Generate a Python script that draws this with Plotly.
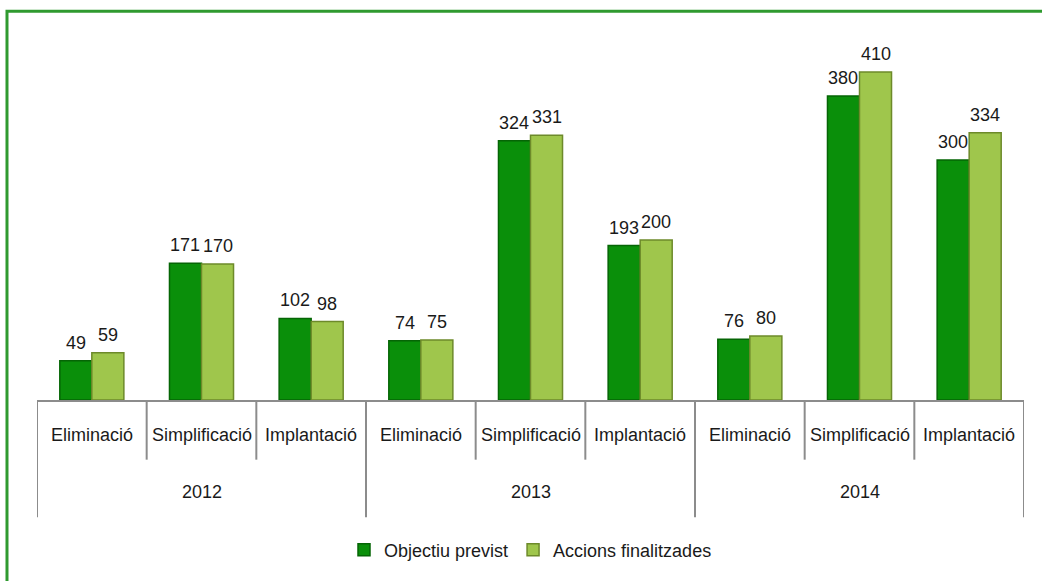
import plotly.graph_objects as go

# Action counts per year and type of intervention
year_labels = ["2012", "2013", "2014"]
type_labels = ["Eliminació", "Simplificació", "Implantació"]
objectiu_previst = [49, 171, 102, 74, 324, 193, 76, 380, 300]
accions_finalitzades = [59, 170, 98, 75, 331, 200, 80, 410, 334]

font_family = "Liberation Sans"
font_size = 18
text_color = "#1a1a1a"
axis_grey = "#8c8c8c"

n_types = len(type_labels)
n_cats = len(year_labels) * n_types
positions = list(range(n_cats))
bar_w = 0.292

# plot area is 362 px tall; convert pixel offsets below the axis into paper units
px = 1.0 / 362.0

fig = go.Figure()
fig.add_trace(go.Bar(
    name="Objectiu previst",
    x=positions,
    y=objectiu_previst,
    width=bar_w,
    offset=-bar_w,
    marker=dict(color="#0a8f0a", line=dict(color="#056505", width=1.5)),
))
fig.add_trace(go.Bar(
    name="Accions finalitzades",
    x=positions,
    y=accions_finalitzades,
    width=bar_w,
    offset=0,
    marker=dict(color="#9fc64c", line=dict(color="#6d8a2a", width=1.5)),
))

annotations = []
shapes = []

# value labels above each bar
for i, (a, b) in enumerate(zip(objectiu_previst, accions_finalitzades)):
    for val, xc in ((a, i - bar_w / 2), (b, i + bar_w / 2)):
        annotations.append(dict(
            x=xc, y=val, xref="x", yref="y", text=str(val),
            showarrow=False, yanchor="bottom", yshift=6,
            font=dict(family=font_family, size=font_size, color=text_color),
        ))

# inner category labels and their separators
for i in positions:
    annotations.append(dict(
        x=i, y=-35 * px, xref="x", yref="paper",
        text=type_labels[i % n_types], showarrow=False,
        yanchor="middle", xanchor="center",
        font=dict(family=font_family, size=font_size, color=text_color),
    ))
for i in range(n_cats + 1):
    is_year_edge = i % n_types == 0
    shapes.append(dict(
        type="line", xref="x", yref="paper",
        x0=i - 0.5, x1=i - 0.5,
        y0=0, y1=(-118 if is_year_edge else -60) * px,
        line=dict(color=axis_grey, width=2),
    ))

# year labels
for g, yl in enumerate(year_labels):
    annotations.append(dict(
        x=g * n_types + (n_types - 1) / 2, y=-93 * px, xref="x", yref="paper",
        text=yl, showarrow=False, yanchor="middle", xanchor="center",
        font=dict(family=font_family, size=font_size, color=text_color),
    ))

# green frame around the chart
shapes.append(dict(
    type="rect", xref="paper", yref="paper",
    x0=-0.0304, x1=1.2, y0=-1.0, y1=1.080,
    line=dict(color="#2f9a2f", width=3), layer="below",
))

fig.update_layout(
    width=1042,
    height=581,
    margin=dict(l=37, r=18, t=40, b=179),
    paper_bgcolor="white",
    plot_bgcolor="white",
    barmode="overlay",
    font=dict(family=font_family, size=font_size, color=text_color),
    showlegend=True,
    legend=dict(
        orientation="h",
        x=0.5,
        xanchor="center",
        y=-151 * px,
        yanchor="middle",
        font=dict(family=font_family, size=font_size, color=text_color),
        itemwidth=30,
    ),
    annotations=annotations,
    shapes=shapes,
)

fig.update_xaxes(
    range=[-0.5, n_cats - 0.5],
    showline=True,
    linecolor=axis_grey,
    linewidth=2,
    showticklabels=False,
    ticks="",
    showgrid=False,
    zeroline=False,
)
fig.update_yaxes(visible=False, range=[0, 450])

fig.write_html("out.html")
